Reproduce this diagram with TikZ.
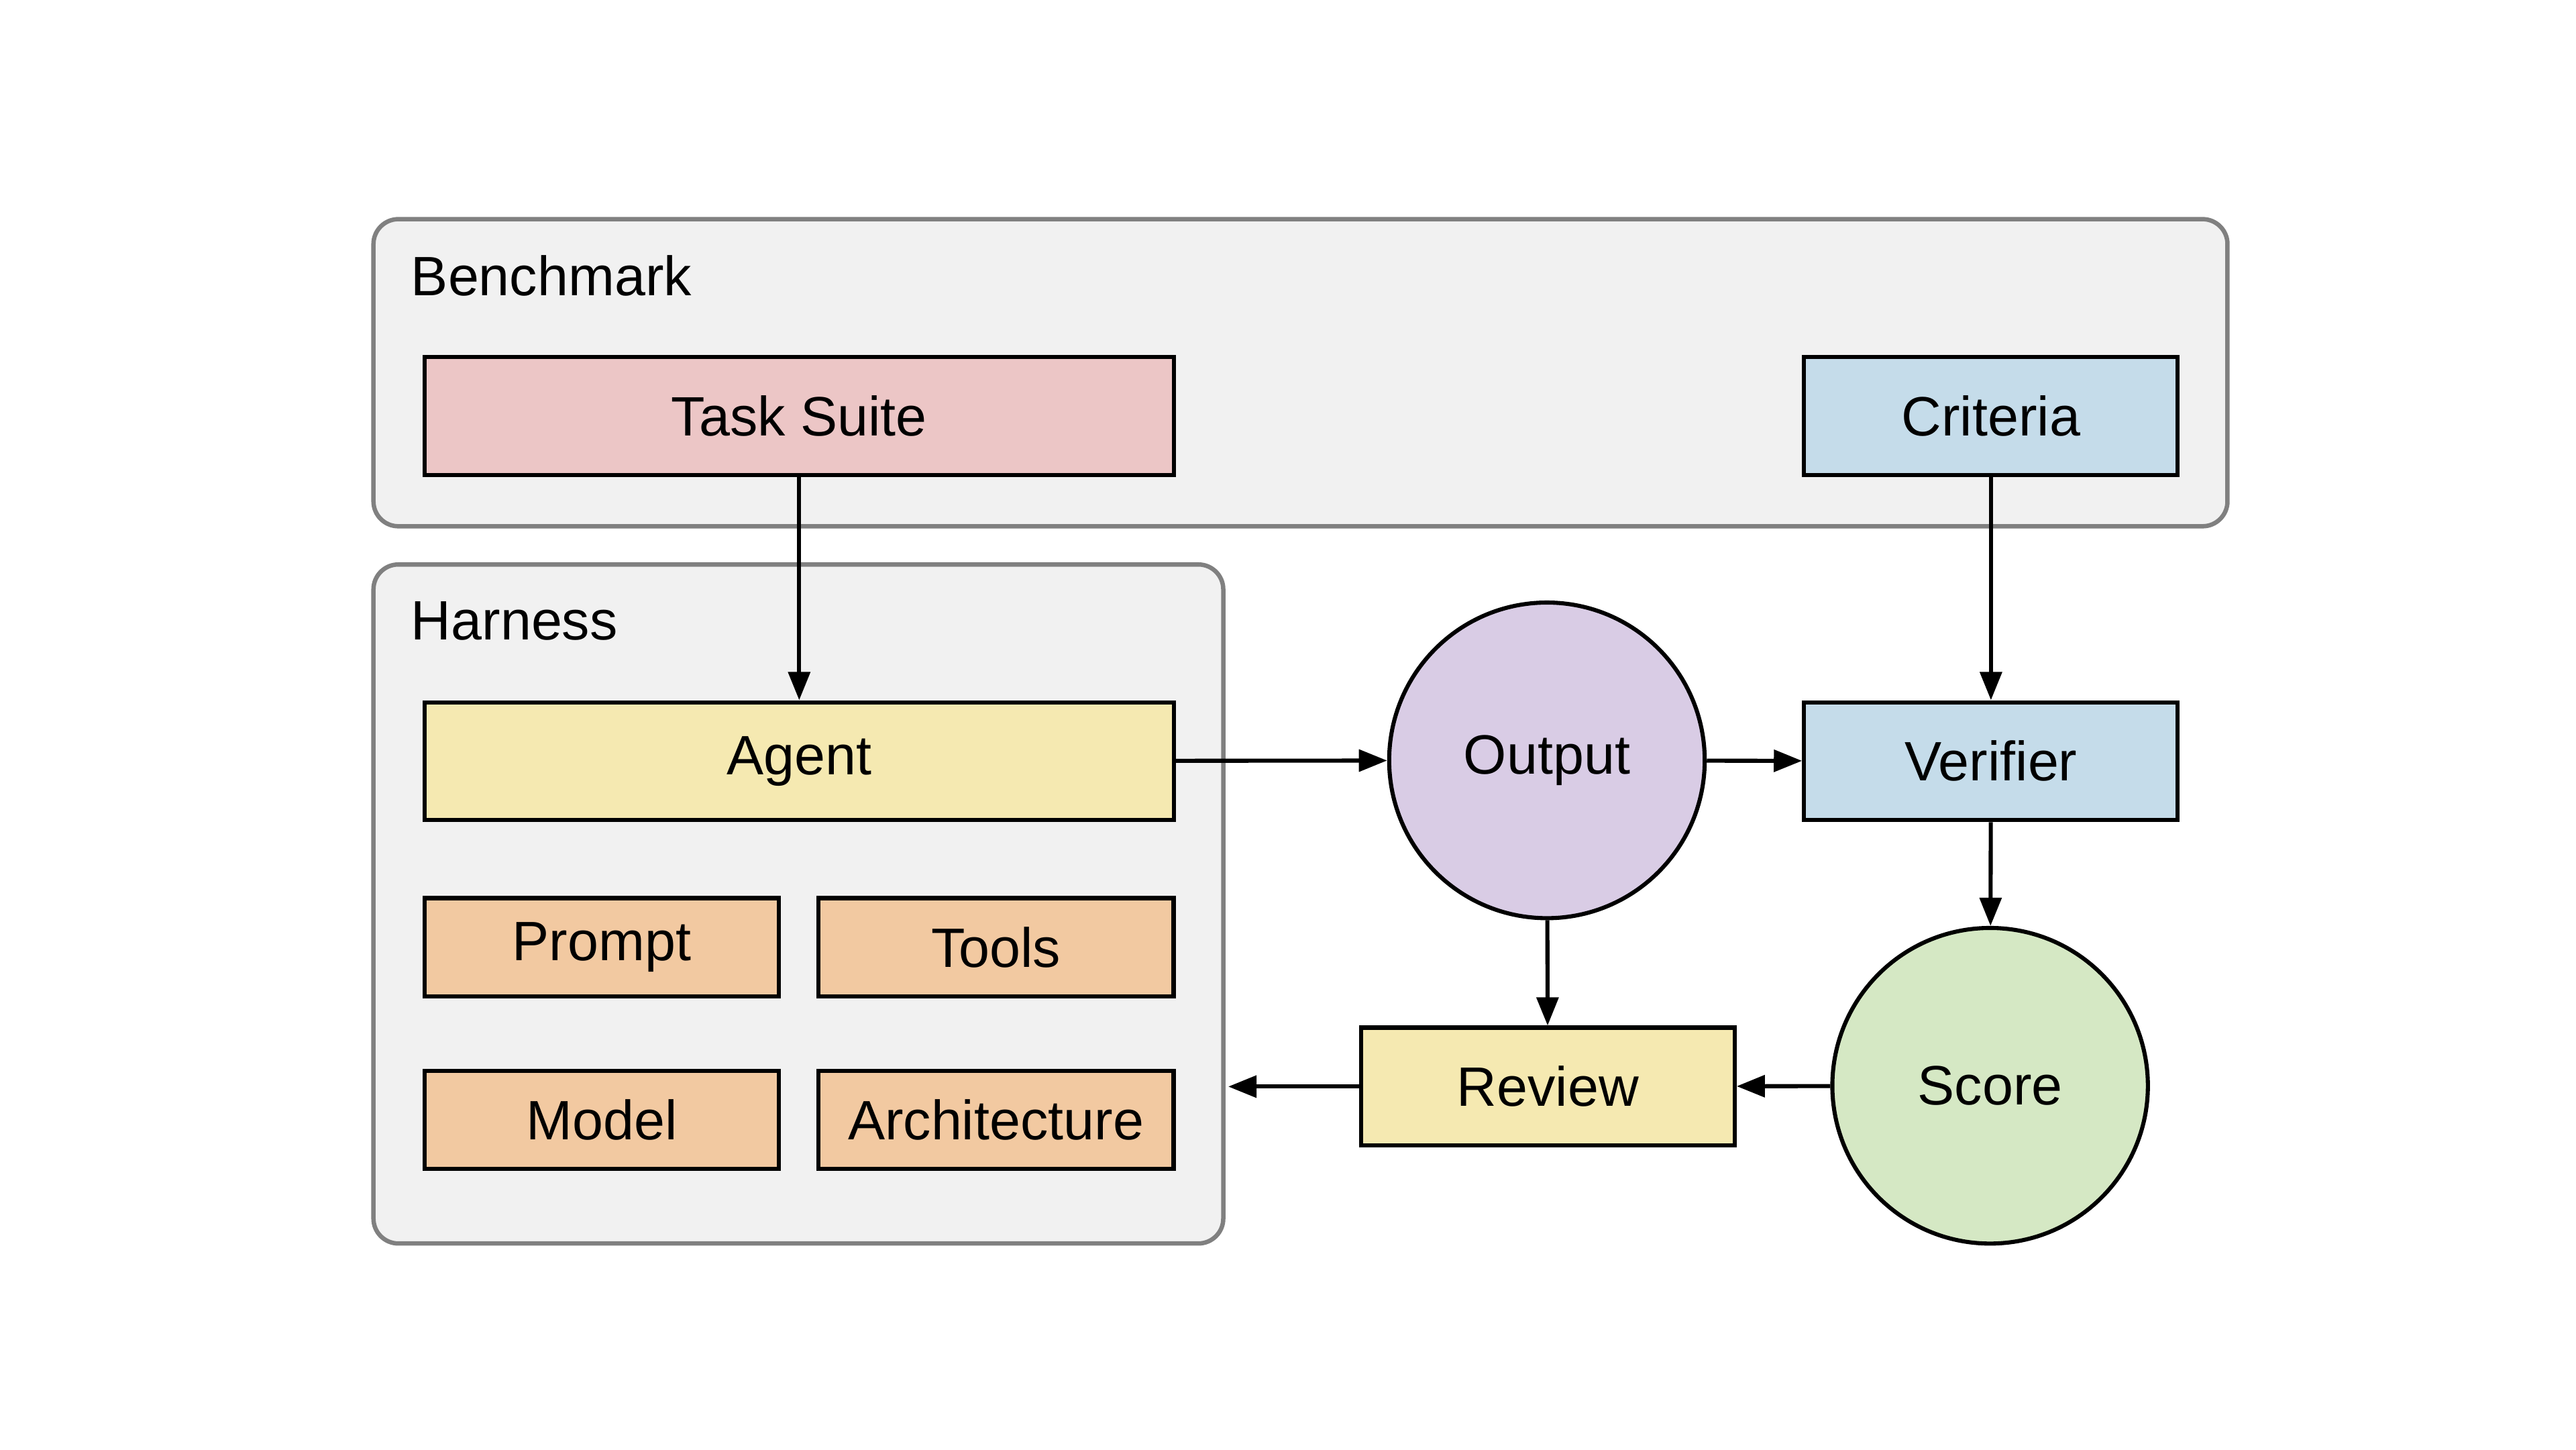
\documentclass[tikz,border=0pt]{standalone}
\usepackage{fontspec}
\setmainfont{Liberation Sans}
\usetikzlibrary{arrows.meta}
\definecolor{grpfill}{HTML}{F1F1F1}
\definecolor{grpdraw}{HTML}{808080}
\definecolor{cred}{HTML}{ECC6C6}
\definecolor{cblue}{HTML}{C5DCEA}
\definecolor{cyel}{HTML}{F5E9B1}
\definecolor{corg}{HTML}{F2C9A1}
\definecolor{cpur}{HTML}{D9CCE5}
\definecolor{cgrn}{HTML}{D5E8C4}
\tikzset{
  grp/.style={draw=grpdraw,fill=grpfill,line width=0.75pt,rounded corners=0.15cm},
  bx/.style={draw=black,line width=0.7pt,inner sep=0pt,font=\fontsize{9.5}{11}\selectfont},
  circ/.style={circle,draw=black,line width=0.7pt,inner sep=0pt,minimum size=1.9cm,font=\fontsize{9.5}{11}\selectfont},
  lbl/.style={anchor=west,inner sep=0pt,font=\fontsize{9.5}{11}\selectfont},
  arr/.style={-{Triangle[length=0.17cm,width=0.13cm]},line width=0.7pt}
}
\begin{document}
\begin{tikzpicture}[x=0.01cm,y=-0.01cm]
\useasboundingbox (0,0) rectangle (1552,873);
\draw[grp] (225,132) rectangle (1342,317);
\draw[grp] (225,340) rectangle (737,749);
\node[lbl] (lb) at (247,166) {Benchmark};
\node[lbl] (lh) at (247,374) {Harness};
\node[bx,fill=cred,minimum width=4.51cm,minimum height=0.71cm] (task) at (481.5,250.5) {Task Suite};
\node[bx,fill=cblue,minimum width=2.25cm,minimum height=0.71cm] (crit) at (1199.5,250.5) {Criteria};
\node[bx,fill=cyel,minimum width=4.51cm,minimum height=0.71cm] (agent) at (481.5,458.5) {Agent};
\node[bx,fill=corg,minimum width=2.13cm,minimum height=0.59cm] (prompt) at (362.5,570.5) {Prompt};
\node[bx,fill=corg,minimum width=2.14cm,minimum height=0.59cm] (tools) at (600,570.5) {Tools};
\node[bx,fill=corg,minimum width=2.13cm,minimum height=0.59cm] (model) at (362.5,674.5) {Model};
\node[bx,fill=corg,minimum width=2.14cm,minimum height=0.59cm] (arch) at (600,674.5) {Architecture};
\node[circ,fill=cpur] (out) at (932,458) {Output};
\node[bx,fill=cblue,minimum width=2.25cm,minimum height=0.71cm] (ver) at (1199.5,458.5) {Verifier};
\node[circ,fill=cgrn] (score) at (1199,654) {Score};
\node[bx,fill=cyel,minimum width=2.25cm,minimum height=0.71cm] (rev) at (932.5,654.5) {Review};
\coordinate (hin) at (740,654.5);
\draw[arr] (task) -- (agent);
\draw[arr] (crit) -- (ver);
\draw[arr] (agent) -- (out);
\draw[arr] (out) -- (ver);
\draw[arr] (ver) -- (score);
\draw[arr] (out) -- (rev);
\draw[arr] (score) -- (rev);
\draw[arr] (rev) -- (hin);
\end{tikzpicture}
\end{document}
